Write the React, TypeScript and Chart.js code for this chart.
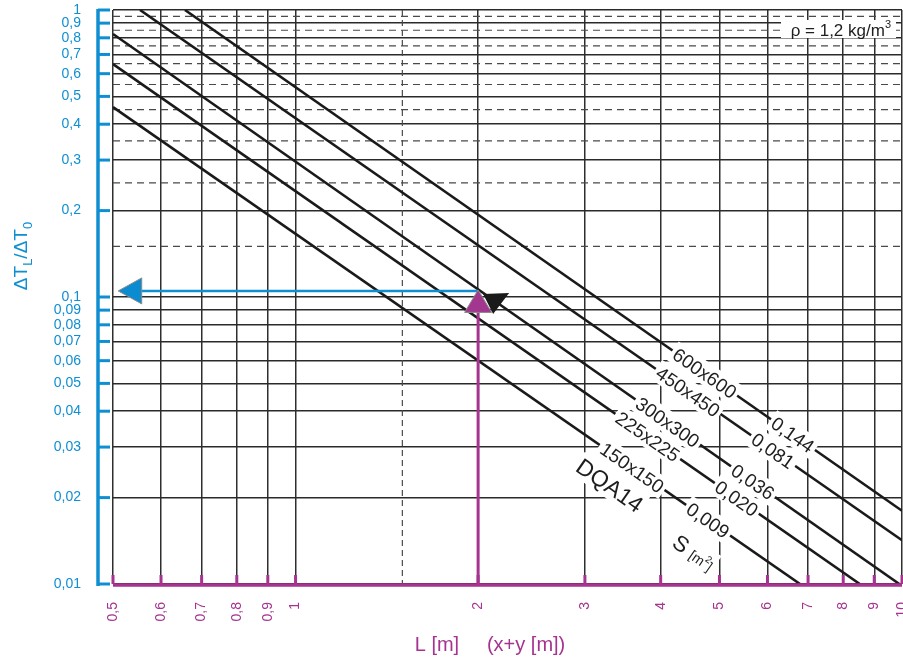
import React, { useEffect, useRef } from 'react';
import { Chart, registerables } from 'chart.js';

Chart.register(...registerables);

const FONT = '"Liberation Sans", Arial, Helvetica, sans-serif';
const BLUE = '#0f8fd2';
const MAGENTA = '#a5338f';
const INK = '#1e1e1e';

// axis ticks
const xTickValues = [0.5, 0.6, 0.7, 0.8, 0.9, 1, 2, 3, 4, 5, 6, 7, 8, 9, 10];
const xTickLabels = ['0,5', '0,6', '0,7', '0,8', '0,9', '1', '2', '3', '4', '5', '6', '7', '8', '9', '10'];
const yTickValues = [0.01, 0.02, 0.03, 0.04, 0.05, 0.06, 0.07, 0.08, 0.09, 0.1, 0.2, 0.3, 0.4, 0.5, 0.6, 0.7, 0.8, 0.9, 1];
const yTickLabels = ['0,01', '0,02', '0,03', '0,04', '0,05', '0,06', '0,07', '0,08', '0,09', '0,1', '0,2', '0,3', '0,4', '0,5', '0,6', '0,7', '0,8', '0,9', '1'];
const yDashedValues = [0.15, 0.25, 0.35, 0.45, 0.55, 0.65, 0.75, 0.85, 0.95];
const xDashedValues = [1.5];

// duct series (end points)
const ductSizes = ['150x150', '225x225', '300x300', '450x450', '600x600'];
const ductAreas = ['0,009', '0,020', '0,036', '0,081', '0,144'];
const line150 = [{ x: 0.5, y: 0.459 }, { x: 6.79, y: 0.01 }];
const line225 = [{ x: 0.5, y: 0.648 }, { x: 8.52, y: 0.01 }];
const line300 = [{ x: 0.5, y: 0.825 }, { x: 9.9, y: 0.01 }];
const line450 = [{ x: 0.554, y: 1 }, { x: 10, y: 0.0142 }];
const line600 = [{ x: 0.657, y: 1 }, { x: 10, y: 0.018 }];
const ductLines = [line150, line225, line300, line450, line600];
const sizeLabelX = [3.59, 3.81, 4.11, 4.44, 4.73];
const areaLabelX = [4.79, 5.34, 5.68, 6.13, 6.61];
const dqaLabelPos = { x: 3.3, y: 0.0221 };
const areaUnitPos = { x: 4.54, y: 0.0129 };

// reading example
const readL = 2;
const readRatio = 0.105;
const arrowEndL = 0.51;

type Run = { t: string; size: number; dy?: number };

function runsWidth(ctx: CanvasRenderingContext2D, runs: Run[]) {
  let w = 0;
  for (const r of runs) {
    ctx.font = `${r.size}px ${FONT}`;
    w += ctx.measureText(r.t).width;
  }
  return w;
}

function drawRuns(ctx: CanvasRenderingContext2D, runs: Run[], x: number, y: number) {
  let cx = x;
  for (const r of runs) {
    ctx.font = `${r.size}px ${FONT}`;
    ctx.fillText(r.t, cx, y + (r.dy || 0));
    cx += ctx.measureText(r.t).width;
  }
}

function boxedRuns(
  ctx: CanvasRenderingContext2D,
  runs: Run[],
  cx: number,
  cy: number,
  angle: number,
  mainSize: number,
  padX: number
) {
  ctx.save();
  ctx.translate(cx, cy);
  ctx.rotate(angle);
  const w = runsWidth(ctx, runs);
  const h = mainSize + 3;
  ctx.fillStyle = '#ffffff';
  ctx.fillRect(-w / 2 - padX, -h / 2, w + 2 * padX, h);
  ctx.fillStyle = INK;
  ctx.textBaseline = 'alphabetic';
  ctx.textAlign = 'left';
  drawRuns(ctx, runs, -w / 2, mainSize * 0.36);
  ctx.restore();
}

function lineYAt(pts: { x: number; y: number }[], xv: number) {
  const lx1 = Math.log10(pts[0].x);
  const lx2 = Math.log10(pts[1].x);
  const ly1 = Math.log10(pts[0].y);
  const ly2 = Math.log10(pts[1].y);
  const t = (Math.log10(xv) - lx1) / (lx2 - lx1);
  return Math.pow(10, ly1 + t * (ly2 - ly1));
}

function triangle(ctx: CanvasRenderingContext2D, p: number[][], fill: string, stroke: string) {
  ctx.beginPath();
  ctx.moveTo(p[0][0], p[0][1]);
  ctx.lineTo(p[1][0], p[1][1]);
  ctx.lineTo(p[2][0], p[2][1]);
  ctx.closePath();
  ctx.fillStyle = fill;
  ctx.fill();
  if (stroke) {
    ctx.strokeStyle = stroke;
    ctx.lineWidth = 1;
    ctx.stroke();
  }
}

const annotate = {
  id: 'annotate',
  beforeDatasetsDraw(chart: any) {
    const { ctx, chartArea: a } = chart;
    const xs = chart.scales.x;
    const ys = chart.scales.y;
    ctx.save();
    ctx.strokeStyle = '#4a4a4a';
    ctx.lineWidth = 1.2;
    ctx.setLineDash([7, 5]);
    for (const v of yDashedValues) {
      const py = ys.getPixelForValue(v);
      ctx.beginPath();
      ctx.moveTo(a.left, py);
      ctx.lineTo(a.right, py);
      ctx.stroke();
    }
    ctx.setLineDash([6, 4]);
    for (const v of xDashedValues) {
      const px = xs.getPixelForValue(v);
      ctx.beginPath();
      ctx.moveTo(px, a.top);
      ctx.lineTo(px, a.bottom);
      ctx.stroke();
    }
    ctx.restore();
  },
  afterDatasetsDraw(chart: any) {
    const { ctx, chartArea: a } = chart;
    const xs = chart.scales.x;
    const ys = chart.scales.y;
    const P = (x: number, y: number) => [xs.getPixelForValue(x), ys.getPixelForValue(y)];
    ctx.save();

    // angle of the duct lines in pixel space
    const e1 = P(line600[0].x, line600[0].y);
    const e2 = P(line600[1].x, line600[1].y);
    const ang = Math.atan2(e2[1] - e1[1], e2[0] - e1[0]);

    // labels on the duct lines
    ductLines.forEach((pts, i) => {
      const s = P(sizeLabelX[i], lineYAt(pts, sizeLabelX[i]));
      boxedRuns(ctx, [{ t: ductSizes[i], size: 19 }], s[0], s[1], ang, 19, 3);
      const q = P(areaLabelX[i], lineYAt(pts, areaLabelX[i]));
      boxedRuns(ctx, [{ t: ductAreas[i], size: 19 }], q[0], q[1], ang, 19, 3);
    });
    const d = P(dqaLabelPos.x, dqaLabelPos.y);
    boxedRuns(ctx, [{ t: 'DQA14', size: 23 }], d[0], d[1], ang, 23, 2);
    const u = P(areaUnitPos.x, areaUnitPos.y);
    boxedRuns(
      ctx,
      [
        { t: 'S ', size: 22 },
        { t: '[m', size: 14 },
        { t: '2', size: 10, dy: -7 },
        { t: ']', size: 14 },
      ],
      u[0],
      u[1],
      ang,
      22,
      2
    );

    // density note
    ctx.fillStyle = '#ffffff';
    ctx.fillRect(a.right - 121, a.top + 10, 115, 18);
    ctx.fillStyle = INK;
    ctx.textBaseline = 'middle';
    const rhoRuns: Run[] = [
      { t: 'ρ = 1,2 kg/m', size: 17 },
      { t: '3', size: 11, dy: -6 },
    ];
    const rw = runsWidth(ctx, rhoRuns);
    drawRuns(ctx, rhoRuns, a.right - 11 - rw, a.top + 21);

    // reading example
    const r = P(readL, readRatio);
    const tipX = xs.getPixelForValue(arrowEndL);
    // blue horizontal
    ctx.strokeStyle = BLUE;
    ctx.lineWidth = 2.5;
    ctx.beginPath();
    ctx.moveTo(tipX + 20, r[1]);
    ctx.lineTo(r[0], r[1]);
    ctx.stroke();
    triangle(ctx, [[tipX, r[1]], [tipX + 23.5, r[1] - 13], [tipX + 23.5, r[1] + 13]], '#0b8bd0', '#8a8a8a');
    // magenta vertical
    ctx.strokeStyle = MAGENTA;
    ctx.lineWidth = 3;
    ctx.beginPath();
    ctx.moveTo(r[0], a.bottom);
    ctx.lineTo(r[0], r[1] + 20);
    ctx.stroke();
    triangle(ctx, [[r[0], r[1] - 1], [r[0] - 13.5, r[1] + 21.5], [r[0] + 13.5, r[1] + 21.5]], '#a3378f', '#8a8a8a');
    // black arrow on duct line
    triangle(ctx, [[r[0] + 5, r[1] + 3], [r[0] + 31, r[1] + 2], [r[0] + 15, r[1] + 23]], '#1a1a1a', '');

    // y axis (blue)
    const axX = a.left - 15;
    ctx.strokeStyle = BLUE;
    ctx.lineWidth = 3.5;
    ctx.beginPath();
    ctx.moveTo(axX, a.top - 1);
    ctx.lineTo(axX, a.bottom + 2);
    ctx.stroke();
    ctx.lineWidth = 3;
    for (const v of yTickValues) {
      const py = ys.getPixelForValue(v);
      ctx.beginPath();
      ctx.moveTo(axX, py);
      ctx.lineTo(axX + 12, py);
      ctx.stroke();
    }

    // x axis (magenta)
    ctx.strokeStyle = MAGENTA;
    ctx.lineWidth = 3.5;
    ctx.beginPath();
    ctx.moveTo(a.left, a.bottom + 1);
    ctx.lineTo(a.right, a.bottom + 1);
    ctx.stroke();
    ctx.lineWidth = 3;
    for (const v of xTickValues) {
      const px = xs.getPixelForValue(v);
      ctx.beginPath();
      ctx.moveTo(px, a.bottom);
      ctx.lineTo(px, a.bottom - 9);
      ctx.stroke();
    }

    // y title
    ctx.fillStyle = BLUE;
    ctx.textBaseline = 'alphabetic';
    const yTitle: Run[] = [
      { t: 'ΔT', size: 19 },
      { t: 'L', size: 13, dy: 5 },
      { t: '/ΔT', size: 19 },
      { t: '0', size: 13, dy: 5 },
    ];
    const yw = runsWidth(ctx, yTitle);
    ctx.save();
    ctx.translate(20, (a.top + a.bottom) / 2 - 41);
    ctx.rotate(-Math.PI / 2);
    drawRuns(ctx, yTitle, -yw / 2, 7);
    ctx.restore();

    // x title
    ctx.fillStyle = MAGENTA;
    ctx.textBaseline = 'middle';
    ctx.textAlign = 'center';
    ctx.font = `20px ${FONT}`;
    ctx.fillText('L [m]     (x+y [m])', a.left + 377, a.bottom + 61);

    ctx.restore();
  },
};

export default function App() {
  const ref = useRef<HTMLCanvasElement>(null);
  useEffect(() => {
    const chart = new Chart(ref.current as HTMLCanvasElement, {
      type: 'line',
      data: {
        datasets: ductLines.map((pts, i) => ({
          label: ductSizes[i],
          data: pts,
          borderColor: '#1a1a1a',
          borderWidth: 2.6,
          pointRadius: 0,
          fill: false,
          tension: 0,
        })),
      },
      options: {
        animation: false,
        responsive: false,
        devicePixelRatio: 1,
        layout: { padding: { top: 10, right: 1, left: 0, bottom: 0 }, autoPadding: false },
        plugins: { legend: { display: false }, tooltip: { enabled: false } },
        scales: {
          x: {
            type: 'logarithmic',
            min: 0.5,
            max: 10,
            afterBuildTicks: (s: any) => {
              s.ticks = xTickValues.map((value) => ({ value }));
            },
            afterFit: (s: any) => {
              s.height = 77;
              s.paddingLeft = 0;
              s.paddingRight = 0;
            },
            grid: { color: '#2e2e2e', lineWidth: 1.5, drawTicks: false },
            border: { display: false },
            ticks: {
              autoSkip: false,
              minRotation: 90,
              maxRotation: 90,
              padding: 18,
              color: MAGENTA,
              font: { family: FONT, size: 14 },
              callback: (_v: any, i: number) => xTickLabels[i],
            },
          },
          y: {
            type: 'logarithmic',
            min: 0.01,
            max: 1,
            afterBuildTicks: (s: any) => {
              s.ticks = yTickValues.map((value) => ({ value }));
            },
            afterFit: (s: any) => {
              s.width = 113;
              s.paddingTop = 0;
              s.paddingBottom = 0;
            },
            grid: { color: '#2a2a2a', lineWidth: 1.5, drawTicks: false },
            border: { display: false },
            ticks: {
              autoSkip: false,
              padding: 32,
              color: BLUE,
              font: { family: FONT, size: 14 },
              callback: (_v: any, i: number) => yTickLabels[i],
            },
          },
        },
      } as any,
      plugins: [annotate],
    });
    return () => chart.destroy();
  }, []);
  return (
    <div style={{ position: 'fixed', left: 0, top: 0, width: 903, height: 661, background: '#ffffff' }}>
      <canvas ref={ref} width={903} height={661} style={{ width: 903, height: 661, display: 'block' }} />
    </div>
  );
}
